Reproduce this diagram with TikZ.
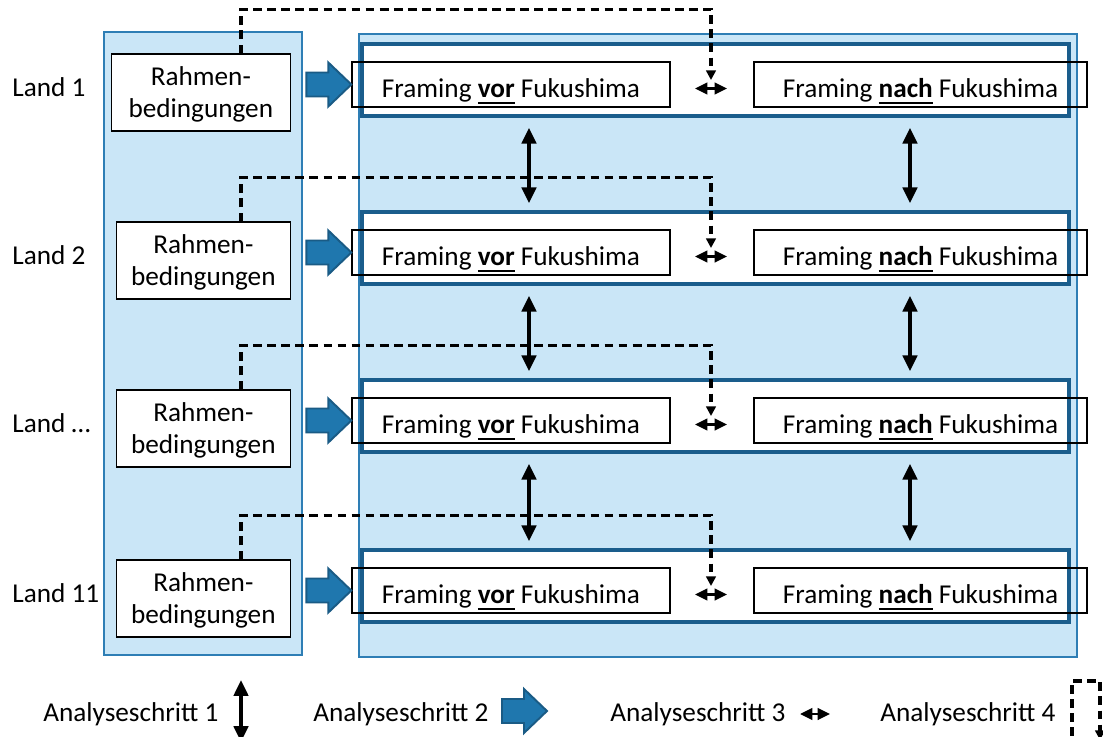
\documentclass[tikz,border=0pt]{standalone}
\usepackage{fontspec}
\setmainfont{Carlito}
\usetikzlibrary{arrows.meta,calc}
\definecolor{paneel}{HTML}{CAE6F7}
\definecolor{paneelrand}{HTML}{2E7EB5}
\definecolor{reihenrand}{HTML}{1A5D8C}
\definecolor{pfeil}{HTML}{1F77AE}
\definecolor{pfeilrand}{HTML}{1A5B85}
\newcommand\fettunter[1]{\setbox0\hbox{\textbf{#1}}\rlap{\rule[-3.4pt]{\wd0}{1.1pt}}\box0\relax}
\tikzset{
    panel/.style={draw=paneelrand,fill=paneel,line width=1.2pt},
    reihe/.style={draw=reihenrand,fill=white,line width=2pt},
    rbox/.style={draw,fill=white,line width=0.8pt,align=center,
        minimum width=3.48cm,minimum height=1.54cm,inner sep=0pt},
    fbox/.style={draw,line width=0.8pt,minimum height=0.9cm,inner sep=0pt,
        text height=15pt,text depth=0pt},
    vpfeil/.style={line width=2.2pt,
        {Triangle[width=8pt,length=9pt]}-{Triangle[width=8pt,length=9pt]}},
    hpfeil/.style={line width=1.6pt,
        {Triangle[width=6.5pt,length=7pt]}-{Triangle[width=6.5pt,length=7pt]}},
    strich/.style={line width=2pt,dash pattern=on 5pt off 3pt,
        -{Triangle[width=5.5pt,length=5.5pt]}},
    txt/.style={inner sep=0pt,anchor=west},
    fatpfeil/.pic={
        \draw[draw=pfeilrand,fill=pfeil,line width=1.1pt,line join=miter]
            (0,0) -- (-23,-22) -- (-23,-12) -- (-45,-12)
            -- (-45,12) -- (-23,12) -- (-23,22) -- cycle;
    }
}
\begin{document}
\begin{tikzpicture}[x=0.02cm,y=-0.02cm,font=\fontsize{15.5}{18.5}\selectfont]
    \useasboundingbox (0,0) rectangle (1103,737);
    % Hintergrund
    \draw[panel] (104,32) rectangle (302,655);
    \draw[panel] (359,34) rectangle (1077,657);
    \coordinate (abzweig) at (241,0);
    % Zeilen je Land
    \foreach \i/\oben/\nr/\rb in {1/44/1/3.58cm,2/212/2/3.48cm,3/380/…/3.48cm,4/550/11/3.48cm} {
        \draw[reihe] (362,\oben) rectangle (1069,\oben+72);
        \node[txt] (land\i) at (12,\oben+43) {Land \nr};
        \node[rbox,minimum width=\rb,anchor=east] (rahmen\i) at (291,\oben+48.5)
            {\rule{0pt}{13pt}Rahmen-\\bedingungen};
        \node[fbox,minimum width=6.36cm] (vor\i) at (511,\oben+40.5)
            {Framing \fettunter{vor} Fukushima};
        \node[fbox,minimum width=6.66cm] (nach\i) at (920.5,\oben+40.5)
            {Framing \fettunter{nach} Fukushima};
        \pic at (vor\i.west) {fatpfeil};
        \coordinate (hl\i) at (695,\oben+44.5);
        \coordinate (hr\i) at (727,\oben+44.5);
        \draw[hpfeil] (hl\i) -- (hr\i);
        \coordinate (ziel\i) at (711,\oben+36);
        \draw[strich] (rahmen\i.north -| abzweig) -- ++(0,-44) -| (ziel\i);
    }
    % zwischen den Laendern
    \foreach \i/\j in {1/2,2/3,3/4} {
        \draw[vpfeil] ($(vor\i.south)+(18,20)$) -- ($(vor\j.north)+(18,-26)$);
        \draw[vpfeil] ($(nach\i.south)+(-10.5,20)$) -- ($(nach\j.north)+(-10.5,-26)$);
    }
    % Legende
    \node[txt] (schritt1) at (43,714) {Analyseschritt 1};
    \coordinate (l1o) at (241,680);
    \coordinate (l1u) at (241,742);
    \draw[vpfeil] (l1o) -- (l1u);
    \node[txt] (schritt2) at (313,714) {Analyseschritt 2};
    \pic at (547,711) {fatpfeil};
    \node[txt] (schritt3) at (610,714) {Analyseschritt 3};
    \coordinate (l3l) at (800,714);
    \coordinate (l3r) at (830,714);
    \draw[hpfeil] (l3l) -- (l3r);
    \node[txt] (schritt4) at (880,714) {Analyseschritt 4};
    \coordinate (l4a) at (1072,750);
    \coordinate (l4b) at (1100,740);
    \draw[strich] (l4a) -- (1072,681) -| (l4b);
\end{tikzpicture}
\end{document}
